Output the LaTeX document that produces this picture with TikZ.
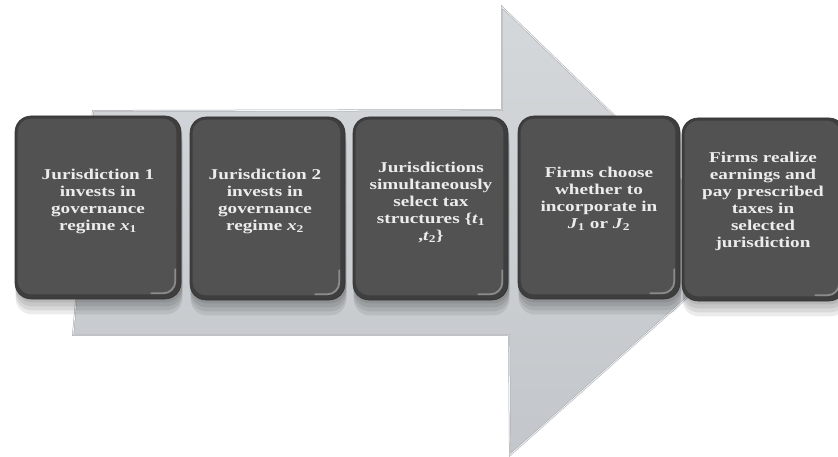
\documentclass[tikz,border=0pt]{standalone}
\usepackage{fontspec}
\newfontfamily\boxfont[FakeStretch=1.28]{Liberation Serif}
\definecolor{arrowtop}{HTML}{D5D8DB}
\definecolor{arrowbot}{HTML}{C3C6CA}
\definecolor{arrowedge}{HTML}{A3A7AC}
\definecolor{boxedge}{HTML}{3E3E3E}
\definecolor{boxface}{HTML}{525252}
\definecolor{boxhl}{HTML}{9A9A9A}
\definecolor{textc}{HTML}{ECECEC}
\pgfdeclarelayer{arrowlayer}
\pgfdeclarelayer{shadowlayer}
\pgfsetlayers{arrowlayer,shadowlayer,main}
\tikzset{
  stepbox/.style={rounded corners=16pt, fill=boxedge, draw=boxedge!85!black, line width=0.6pt,
    minimum height=183pt, inner sep=0pt},
  boxshadow/.style={fill=black, opacity=0.08, rounded corners=16pt},
  boxinner/.style={fill=boxface, rounded corners=13pt},
  boxlight/.style={draw=boxhl, line width=1.8pt, rounded corners=12pt, opacity=0.8, line cap=round},
  txt/.style={text=textc, align=center, inner sep=0pt,
    font=\boxfont\bfseries\fontsize{15}{17}\selectfont},
}
\newcommand{\stepdecor}[1]{%
  \fill[boxinner] ([shift={(3,3)}]#1.north west) rectangle ([shift={(-5,-5)}]#1.south east);
  \draw[boxlight] ([shift={(-30,-6)}]#1.south east) -- ([shift={(-6,-6)}]#1.south east) -- ([shift={(-6,-30)}]#1.south east);
  \begin{pgfonlayer}{shadowlayer}
  \foreach \d in {3,7,11,15}{
    \fill[boxshadow] ([shift={(1,\d)}]#1.north west) rectangle ([shift={(1,\d)}]#1.south east);
  }
  \end{pgfonlayer}
}
\begin{document}
\begin{tikzpicture}[x=1pt,y=-1pt]
\useasboundingbox (0,0) rectangle (838,457);
\clip (0,0) rectangle (838,457);
\begin{pgfonlayer}{arrowlayer}
\fill[white] (0,0) rectangle (838,457);
% big arrow
\coordinate (a1) at (93,111);
\coordinate (a2) at (502,110);
\coordinate (a3) at (502,7);
\coordinate (a4) at (747,244);
\coordinate (a5) at (510,455);
\coordinate (a6) at (509,335);
\coordinate (a7) at (73,335);
\shade[top color=arrowtop, bottom color=arrowbot, draw=arrowedge, line width=1.8pt, line join=miter]
  (a1) -- (a2) -- (a3) -- (a4) -- (a5) -- (a6) -- (a7) -- cycle;
\draw[white, line width=0.8pt, opacity=0.9] (a1) -- (a2) -- (a3) -- (a4) -- (a5) -- (a6) -- (a7) -- cycle;
\end{pgfonlayer}
% boxes
\node[stepbox, minimum width=166pt] (b1) at (98,207.5) {};
\node[stepbox, minimum width=155pt] (b2) at (267.5,208.5) {};
\node[stepbox, minimum width=155pt] (b3) at (430.5,208.5) {};
\node[stepbox, minimum width=162pt] (b4) at (599,207.5) {};
\node[stepbox, minimum width=163pt] (b5) at (763.5,209.5) {};
\stepdecor{b1}
\stepdecor{b2}
\stepdecor{b3}
\stepdecor{b4}
\stepdecor{b5}
% texts
\node[txt] (t1) at (98,201) {Jurisdiction 1\\invests in\\governance\\regime \textit{x}\textsubscript{1}};
\node[txt] (t2) at (265,201) {Jurisdiction 2\\invests in\\governance\\regime \textit{x}\textsubscript{2}};
\node[txt] (t3) at (431,202) {Jurisdictions\\simultaneously\\select tax\\structures \{\textit{t}\textsubscript{1}\\,\textit{t}\textsubscript{2}\}};
\node[txt] (t4) at (599,199) {Firms choose\\whether to\\incorporate in\\\textit{J}\textsubscript{1} or \textit{J}\textsubscript{2}};
\node[txt] (t5) at (763,201) {Firms realize\\earnings and\\pay prescribed\\taxes in\\selected\\jurisdiction};
\end{tikzpicture}
\end{document}
